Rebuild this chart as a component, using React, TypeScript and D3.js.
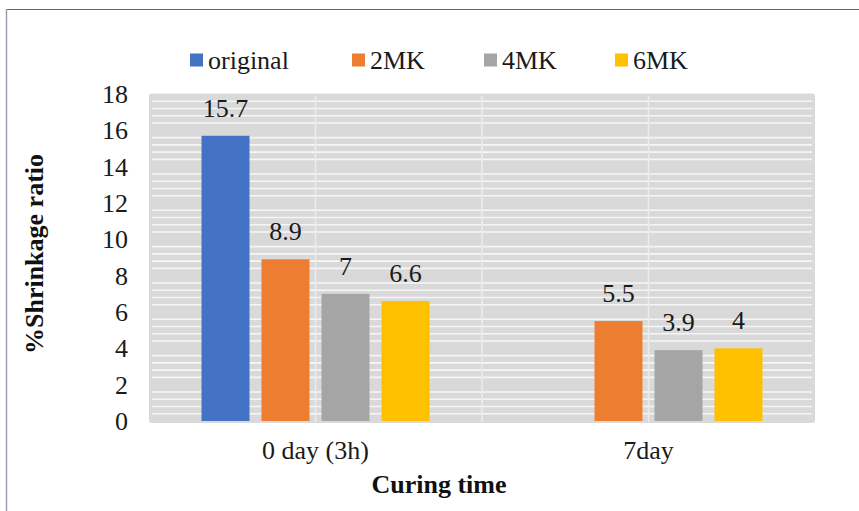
import React from "react";
import * as d3 from "d3";

const categories = ["0 day (3h)", "7day"];
const series = ["original", "2MK", "4MK", "6MK"];
const colors = ["#4472C4", "#ED7D31", "#A5A5A5", "#FFC000"];
// values per series, one entry per category (null = no bar)
const originalValues: (number | null)[] = [15.7, null];
const mk2Values: (number | null)[] = [8.9, 5.5];
const mk4Values: (number | null)[] = [7, 3.9];
const mk6Values: (number | null)[] = [6.6, 4];
const yTicks = [0, 2, 4, 6, 8, 10, 12, 14, 16, 18];

const seriesValues = [originalValues, mk2Values, mk4Values, mk6Values];

const W = 859;
const H = 511;
const plot = { left: 149, right: 815, top: 94, bottom: 421 };
const txt: React.CSSProperties = { fontFamily: "Liberation Serif, Times New Roman, serif" };
const FS = 26;

export default function App() {
  const y = d3.scaleLinear().domain([0, 18]).range([plot.bottom, plot.top]);
  const x0 = d3.scaleBand<string>().domain(categories).range([plot.left, plot.right]);
  const x1 = d3.scaleBand<string>().domain(series).range([-114, 114]).paddingInner(0.2);

  // minor gridlines every 0.4, skipping the even (major) values
  const minor = d3
    .range(1, 46)
    .map((i) => +(i * 0.4).toFixed(1))
    .filter((v) => Math.abs(v / 2 - Math.round(v / 2)) > 1e-6);

  const centers = categories.map((c) => (x0(c) as number) + x0.bandwidth() / 2);
  const vLines = [centers[0], x0(categories[1]) as number, centers[1]];

  const legendX = [190, 352, 484, 615];

  return (
    <svg width={W} height={H} style={{ position: "absolute", left: 0, top: 0, background: "#fff" }}>
      {/* outer frame (top and left edges) */}
      <line x1={6} x2={W} y1={9.5} y2={9.5} stroke="#5f6674" strokeWidth={1.2} />
      <line x1={6.5} x2={6.5} y1={9} y2={H} stroke="#9aa1b0" strokeWidth={1.5} />

      {/* plot background */}
      <rect x={plot.left} y={plot.top - 0.5} width={plot.right - plot.left} height={plot.bottom - plot.top + 2.5} fill="#D9D9D9" rx={2} />
      {minor.map((v) => (
        <line key={v} x1={plot.left + 3} x2={plot.right - 3} y1={y(v)} y2={y(v)} stroke="#f6f6f6" strokeWidth={1.6} />
      ))}
      {vLines.map((xv, i) => (
        <line key={i} x1={xv} x2={xv} y1={plot.top + 2} y2={plot.bottom + 1} stroke="#ececec" strokeWidth={1.6} />
      ))}

      {/* bars */}
      {categories.map((c, ci) =>
        series.map((s, si) => {
          const v = seriesValues[si][ci];
          if (v == null) return null;
          const bx = centers[ci] + (x1(s) as number);
          return (
            <g key={c + s}>
              <rect x={bx} y={y(v)} width={x1.bandwidth()} height={y(0) - y(v)} fill={colors[si]} />
              <text x={bx + x1.bandwidth() / 2} y={y(v) - 19} textAnchor="middle" fontSize={FS} fill="#1a1a1a" style={txt}>
                {v}
              </text>
            </g>
          );
        })
      )}

      {/* y tick labels */}
      {yTicks.map((t) => (
        <text key={t} x={128} y={y(t)} dy="0.34em" textAnchor="end" fontSize={FS} fill="#1a1a1a" style={txt}>
          {t}
        </text>
      ))}

      {/* category labels */}
      {categories.map((c, ci) => (
        <text key={c} x={centers[ci]} y={459} textAnchor="middle" fontSize={FS} fill="#1a1a1a" style={txt}>
          {c}
        </text>
      ))}

      {/* axis titles */}
      <text x={439} y={493} textAnchor="middle" fontSize={FS} fontWeight="bold" fill="#111" style={txt}>
        Curing time
      </text>
      <text transform="translate(43,254) rotate(-90)" textAnchor="middle" fontSize={FS} fontWeight="bold" fill="#111" style={txt}>
        %Shrinkage ratio
      </text>

      {/* legend */}
      {series.map((s, si) => (
        <g key={s}>
          <rect x={legendX[si]} y={53.5} width={13} height={13} fill={colors[si]} />
          <text x={legendX[si] + 18} y={69} fontSize={FS} fill="#1a1a1a" style={txt}>
            {s}
          </text>
        </g>
      ))}
    </svg>
  );
}
